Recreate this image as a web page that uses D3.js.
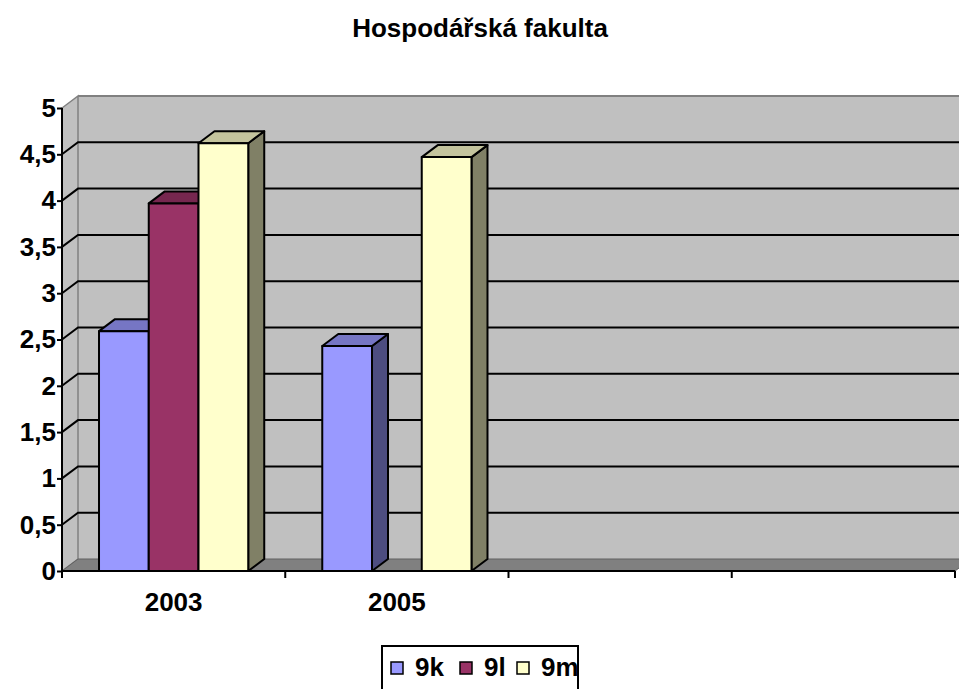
<!DOCTYPE html>
<html lang="cs">
<head>
<meta charset="UTF-8">
<script src="https://d3js.org/d3.v7.min.js"></script>
<title>Hospodářská fakulta</title>
<style>
  body { margin: 0; background: #fff; }
  svg { display: block; font-family: Arial, "Liberation Sans", sans-serif; font-weight: bold; }
</style>
</head>
<body>
<div id="chart"></div>
<script>
// ---- data ----
const categories = ["2003", "2005", "", ""];
const seriesNames = ["9k", "9l", "9m"];
const values9k = [2.59, 2.43, null, null];
const values9l = [3.97, null, null, null];
const values9m = [4.62, 4.47, null, null];
const yTicks = [0, 0.5, 1, 1.5, 2, 2.5, 3, 3.5, 4, 4.5, 5];
const colors = ["#9999FF", "#993366", "#FFFFCC"];

const seriesValues = [values9k, values9l, values9m];

// ---- layout ----
const W = 959, H = 689;
const dx = 16, dy = 12;        // 3D depth offset
const fmt = v => String(v).replace(".", ",");
const FONT = "Arial, 'Liberation Sans', sans-serif";

const svg = d3.select("#chart").append("svg")
  .attr("width", W).attr("height", H);

const x = d3.scaleBand().domain(d3.range(categories.length)).range([62, 955]);
const xs = d3.scaleBand().domain(seriesNames).range([0, x.bandwidth()])
  .paddingInner(0).paddingOuter(0.744);
const y = d3.scaleLinear().domain([0, 5]).range([571, 108]);

const y0 = y(0), yTop = y(5), xL = x.range()[0], xR = x.range()[1];

// back wall
svg.append("rect")
  .attr("x", xL + dx).attr("y", yTop - dy)
  .attr("width", W).attr("height", y0 - yTop)
  .attr("fill", "#C0C0C0");
svg.append("line")
  .attr("x1", xL + dx).attr("x2", W).attr("y1", yTop - dy).attr("y2", yTop - dy)
  .attr("stroke", "#808080").attr("stroke-width", 2);

// left side wall
svg.append("path")
  .attr("d", `M${xL},${y0}L${xL},${yTop}L${xL + dx},${yTop - dy}L${xL + dx},${y0 - dy}Z`)
  .attr("fill", "#C0C0C0").attr("stroke", "#808080").attr("stroke-width", 1.5);

// floor
svg.append("path")
  .attr("d", `M${xL},${y0}L${xL + dx},${y0 - dy}L${xR + dx},${y0 - dy}L${xR},${y0}Z`)
  .attr("fill", "#808080").attr("stroke", "#606060").attr("stroke-width", 1);

// gridlines
const inner = yTicks.filter(t => t > 0 && t < 5);
svg.append("g").selectAll("path").data(inner).join("path")
  .attr("d", t => `M${xL},${y(t)}L${xL + dx},${y(t) - dy}L${W},${y(t) - dy}`)
  .attr("fill", "none").attr("stroke", "#000").attr("stroke-width", 2);

// bars
const shade = (c, k) => { const r = d3.rgb(c); return d3.rgb(r.r * k, r.g * k, r.b * k).formatHex(); };
const bars = [];
categories.forEach((c, i) => {
  seriesNames.forEach((s, j) => {
    const v = seriesValues[j][i];
    if (v != null) bars.push({ i, s, v, color: colors[j] });
  });
});

const bg = svg.append("g").attr("stroke", "#000").attr("stroke-width", 2).attr("stroke-linejoin", "round");
bars.forEach(b => {
  const x1 = x(b.i) + xs(b.s), x2 = x1 + xs.bandwidth(), yt = y(b.v);
  bg.append("path") // right side
    .attr("d", `M${x2},${yt}L${x2 + dx},${yt - dy}L${x2 + dx},${y0 - dy}L${x2},${y0}Z`)
    .attr("fill", shade(b.color, 0.5));
  bg.append("path") // top
    .attr("d", `M${x1},${yt}L${x1 + dx},${yt - dy}L${x2 + dx},${yt - dy}L${x2},${yt}Z`)
    .attr("fill", shade(b.color, 0.77));
  bg.append("rect") // front
    .attr("x", x1).attr("y", yt).attr("width", x2 - x1).attr("height", y0 - yt)
    .attr("fill", b.color);
});

// y axis
const yAxis = svg.append("g").attr("transform", `translate(${xL},0)`)
  .call(d3.axisLeft(y).tickValues(yTicks).tickSize(5).tickPadding(1).tickFormat(fmt));
yAxis.select(".domain").attr("stroke-width", 2).attr("d", `M0,${yTop}V${y0}`);
yAxis.selectAll(".tick line").attr("stroke-width", 2);
yAxis.selectAll("text").attr("font-size", 26).attr("font-family", FONT)
  .attr("font-weight", "bold").attr("fill", "#000");

// x axis
const xAxis = svg.append("g").attr("transform", `translate(0,${y0})`)
  .call(d3.axisBottom(x).tickSize(0).tickFormat(i => categories[i]).tickPadding(22));
xAxis.select(".domain").attr("stroke-width", 2).attr("d", `M${xL},0H${xR}`);
xAxis.selectAll("text").attr("font-size", 26).attr("font-family", FONT)
  .attr("font-weight", "bold").attr("fill", "#000");
svg.append("g").selectAll("line")
  .data(d3.range(categories.length + 1)).join("line")
  .attr("x1", i => xL + i * x.step()).attr("x2", i => xL + i * x.step())
  .attr("y1", y0).attr("y2", y0 + 7)
  .attr("stroke", "#000").attr("stroke-width", 2);

// title
svg.append("text").attr("x", 480).attr("y", 37).attr("text-anchor", "middle")
  .attr("font-size", 26).text("Hospodářská fakulta");

// legend
const lg = svg.append("g");
lg.append("rect").attr("x", 382).attr("y", 646).attr("width", 196).attr("height", 50)
  .attr("fill", "#fff").attr("stroke", "#000").attr("stroke-width", 2);
const lx = [391, 460, 517];
seriesNames.forEach((s, j) => {
  lg.append("rect").attr("x", lx[j]).attr("y", 662).attr("width", 12).attr("height", 12)
    .attr("fill", colors[j]).attr("stroke", "#000").attr("stroke-width", 1.5);
  lg.append("text").attr("x", lx[j] + 24).attr("y", 676).attr("font-size", 26).text(s);
});
</script>
</body>
</html>
